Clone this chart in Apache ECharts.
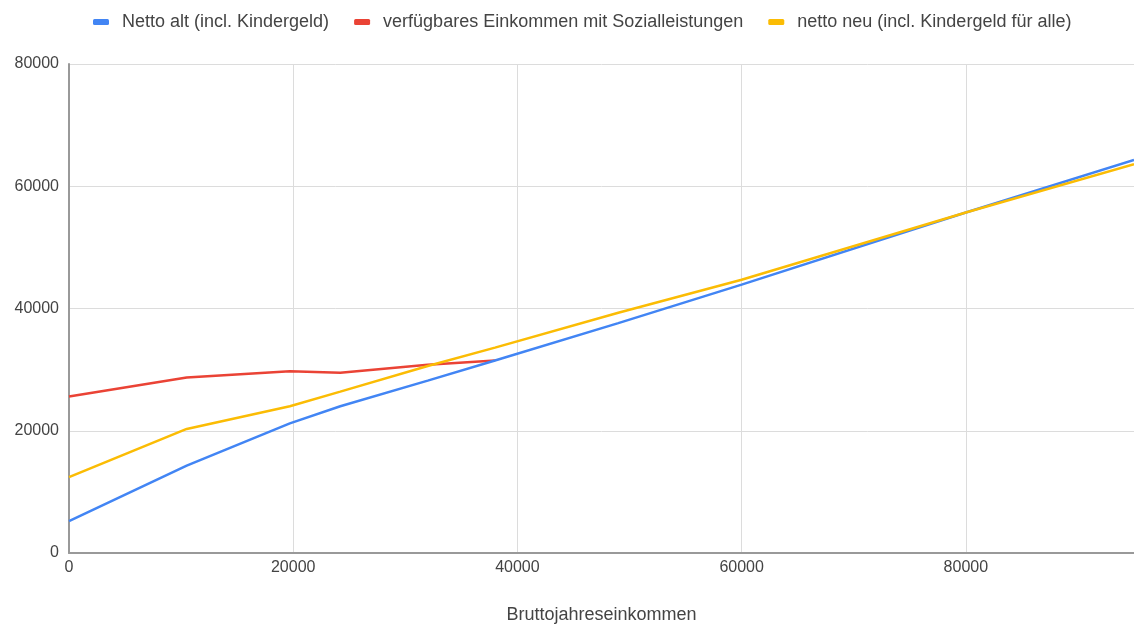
<!DOCTYPE html>
<html>
<head>
<meta charset="utf-8">
<script src="https://cdn.jsdelivr.net/npm/echarts@6/dist/echarts.min.js"></script>
<style>
html,body{margin:0;padding:0;background:#fff;}
#chart{width:1134px;height:629px;}
</style>
</head>
<body>
<div id="chart"></div>
<script>
const seriesNames = ['Netto alt (incl. Kindergeld)', 'verfügbares Einkommen mit Sozialleistungen', 'netto neu (incl. Kindergeld für alle)'];
const brutto = [0, 10500, 19700, 24200, 32000, 38000, 49000, 60000, 80000, 95000];
const nettoAlt = [5200, 14300, 21200, 24000, 28200, 31500, 37600, 43900, 55700, 64300];
const sozial = [25600, 28700, 29750, 29500, 30800, 31500, null, null, null, null];
const nettoNeu = [12400, 20300, 24000, 26400, 30600, 33600, 39300, 44700, 55700, 63600];
const xTicks = [0, 20000, 40000, 60000, 80000];
const yTicks = [0, 20000, 40000, 60000, 80000];

function pairs(vals){ return brutto.map((x,i)=> vals[i]==null ? null : [x, vals[i]]).filter(p=>p); }

const chart = echarts.init(document.getElementById('chart'));
const font = 'Liberation Sans, Arial, sans-serif';
chart.setOption({
  animation: false,
  textStyle: {fontFamily: font},
  color: ['#4285F4', '#EA4335', '#FBBC04'],
  legend: {
    top: 8, left: 88,
    itemWidth: 16, itemHeight: 6, itemGap: 25,
    icon: 'roundRect',
    textStyle: {fontSize: 18, color: '#444', fontFamily: font, padding: [0, 0, 0, 8]},
    data: seriesNames
  },
  grid: {left: 69, right: 0, top: 64, bottom: 71, containLabel: false},
  xAxis: {
    type: 'value', min: xTicks[0], max: 95000, interval: xTicks[1]-xTicks[0],
    name: 'Bruttojahreseinkommen', nameLocation: 'middle', nameGap: 53,
    nameTextStyle: {fontSize: 18, color: '#444'},
    axisLine: {show: true, onZero: false, lineStyle: {color: '#999', width: 2}},
    axisTick: {show: false},
    axisLabel: {fontSize: 16, color: '#444', margin: 7, showMaxLabel: false,
      formatter: v => xTicks.includes(v) ? String(v) : ''},
    splitLine: {show: true, lineStyle: {color: '#dcdcdc', width: 1}}
  },
  yAxis: {
    type: 'value', min: yTicks[0], max: yTicks[yTicks.length-1], interval: yTicks[1]-yTicks[0],
    axisLine: {show: true, lineStyle: {color: '#999', width: 2}},
    axisTick: {show: false},
    axisLabel: {fontSize: 16, color: '#444', margin: 10, formatter: v => String(v)},
    splitLine: {show: true, lineStyle: {color: '#dcdcdc', width: 1}}
  },
  series: [
    {name: seriesNames[0], type: 'line', data: pairs(nettoAlt), showSymbol: false, lineStyle: {width: 2.5}, z: 3},
    {name: seriesNames[1], type: 'line', data: pairs(sozial), showSymbol: false, lineStyle: {width: 2.5}, z: 2},
    {name: seriesNames[2], type: 'line', data: pairs(nettoNeu), showSymbol: false, lineStyle: {width: 2.5}, z: 4}
  ]
});
</script>
</body>
</html>
